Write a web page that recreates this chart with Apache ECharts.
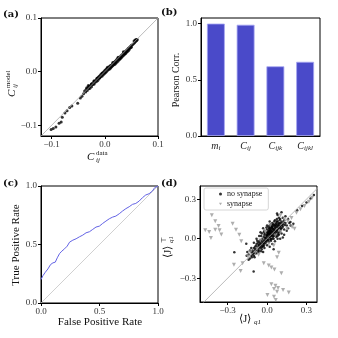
<!DOCTYPE html>
<html>
<head>
<meta charset="utf-8">
<script src="https://cdn.jsdelivr.net/npm/echarts/dist/echarts.min.js"></script>
<style>
  html, body { margin: 0; padding: 0; background: #fff; }
  #chart { width: 338px; height: 338px; }
</style>
</head>
<body>
<div id="chart"></div>
<script>
// (a) model vs data correlations
const corrPoints = [
  [-0.101,-0.108],[-0.097,-0.106],[-0.092,-0.103],[-0.086,-0.096],[-0.082,-0.094],[-0.08,-0.085],
  [-0.075,-0.077],[-0.071,-0.073],[-0.066,-0.067],[-0.062,-0.064],[-0.051,-0.059],[-0.046,-0.049],
  [-0.043,-0.046],[-0.031,-0.026],[-0.034,-0.03],[-0.025,-0.024],
  [-0.04,-0.041],[-0.038,-0.036],[-0.036,-0.038],[-0.035,-0.033],[-0.033,-0.035],[-0.032,-0.03],
  [-0.03,-0.032],[-0.029,-0.027],[-0.028,-0.031],[-0.026,-0.025],[-0.025,-0.028],[-0.024,-0.022],
  [-0.022,-0.024],[-0.021,-0.019],[-0.02,-0.023],[-0.019,-0.018],[-0.018,-0.02],[-0.016,-0.015],
  [-0.015,-0.018],[-0.014,-0.012],[-0.013,-0.016],[-0.012,-0.01],[-0.011,-0.013],[-0.01,-0.008],
  [-0.009,-0.011],[-0.008,-0.006],[-0.007,-0.009],[-0.006,-0.004],[-0.005,-0.008],[-0.004,-0.002],
  [-0.003,-0.006],[-0.002,0.0],[-0.001,-0.004],[0.0,0.002],[0.001,-0.002],[0.002,0.004],
  [0.003,0.0],[0.004,0.006],[0.005,0.002],[0.006,0.007],[0.007,0.004],[0.008,0.009],
  [0.009,0.005],[0.01,0.011],[0.011,0.007],[0.012,0.012],[0.013,0.009],[0.014,0.014],
  [0.015,0.011],[0.016,0.016],[0.017,0.013],[0.018,0.018],[0.019,0.014],[0.02,0.02],
  [0.021,0.016],[0.022,0.022],[0.023,0.018],[0.024,0.024],[0.025,0.02],[0.026,0.025],
  [0.027,0.022],[0.028,0.027],[0.029,0.024],[0.03,0.029],[0.031,0.026],[0.032,0.031],
  [0.033,0.028],[0.034,0.033],[0.035,0.03],[0.036,0.035],[0.037,0.032],[0.038,0.037],
  [0.039,0.034],[0.04,0.039],[0.041,0.036],[0.042,0.041],[0.043,0.038],[0.044,0.043],
  [0.045,0.04],[0.046,0.045],[0.047,0.043],[0.048,0.047],[0.049,0.045],[0.05,0.049],
  [0.052,0.05],[0.054,0.052],[0.056,0.054],[0.058,0.056],[0.06,0.058],[0.059,0.06],
  [0.061,0.06],[0.055,0.057],[0.057,0.059],
  [-0.02,-0.017],[-0.01,-0.012],[0.0,-0.001],[0.01,0.008],[0.02,0.017],[0.03,0.027],
  [0.04,0.037],[0.015,0.017],[0.025,0.027],[0.035,0.037],[0.005,0.008],[-0.005,-0.003],
  [-0.015,-0.013],[-0.025,-0.023],[-0.03,-0.028],[0.045,0.042],[0.05,0.046],[0.038,0.034],
  [0.028,0.024],[0.018,0.015]
];
const corrDiag = [[-0.12, -0.12], [0.1, 0.1]];
const corrTicks = [-0.1, 0, 0.1];

// (b) Pearson correlation of the moments
const pearsonLabels = ['m_i', 'C_ij', 'C_ijk', 'C_ijkl'];
const pearsonVals = [1.0, 0.99, 0.62, 0.66];
const pearsonTicks = [0, 0.5, 1.0];

// (c) ROC curve
const rocPoints = [
  [0,0.2],[0.017,0.234],[0.037,0.263],[0.059,0.291],[0.082,0.329],[0.102,0.343],[0.122,0.349],
  [0.139,0.386],[0.159,0.423],[0.178,0.443],[0.201,0.463],[0.224,0.486],[0.244,0.52],[0.272,0.537],
  [0.3,0.549],[0.329,0.566],[0.357,0.58],[0.385,0.6],[0.414,0.609],[0.442,0.629],[0.47,0.649],
  [0.499,0.657],[0.527,0.68],[0.555,0.7],[0.584,0.72],[0.612,0.734],[0.64,0.743],[0.669,0.763],
  [0.697,0.786],[0.725,0.806],[0.754,0.823],[0.782,0.843],[0.81,0.851],[0.839,0.871],[0.867,0.9],
  [0.895,0.923],[0.924,0.934],[0.952,0.957],[0.972,0.986],[1.0,1.0]
];
const rocDiag = [[0, 0], [1, 1]];
const rocTicks = [0, 0.5, 1];

// (d) inferred couplings
const noSynapse = [
  [0.00,0.02],[0.01,0.03],[0.02,0.05],[0.03,0.04],[0.04,0.06],[0.05,0.05],[0.02,0.01],[0.03,0.07],
  [0.06,0.08],[0.05,0.02],[0.01,0.06],[0.04,0.03],[0.07,0.06],[0.00,0.05],[-0.01,0.01],[0.02,0.08],
  [0.03,0.00],[0.06,0.04],[0.04,0.09],[0.01,-0.01],[0.05,0.07],[0.07,0.03],[-0.02,0.03],[0.00,-0.02],
  [0.03,0.02],[0.02,0.03],[0.045,0.045],[0.015,0.04],[0.035,0.055],[0.055,0.065],[0.025,0.065],
  [0.065,0.05],[0.005,0.035],[-0.005,0.0],[0.08,0.07],[0.075,0.09],[0.06,0.1],[0.035,0.085],
  [0.045,0.015],[0.015,0.015],[0.0,0.07],[-0.015,0.04],[0.05,0.11],[0.08,0.05],[0.09,0.08],
  [0.025,-0.005],[0.04,0.0],[-0.01,-0.015],[0.01,0.09],[0.065,0.02],
  [0.005,0.045],[0.015,0.055],[0.025,0.035],[0.035,0.025],[0.045,0.075],[0.055,0.035],[0.065,0.085],
  [0.075,0.065],[0.085,0.085],[0.015,0.075],[0.025,0.085],[-0.005,0.025],[-0.015,0.005],[-0.025,0.015],
  [0.005,0.005],[0.055,0.095],[0.045,0.105],[0.035,0.095],[0.07,0.1],[0.09,0.1],[0.1,0.09],[0.08,0.11],
  [0.06,0.06],[0.03,0.05],[0.01,0.04],[-0.02,-0.01],[-0.03,-0.035],[-0.045,-0.045],[-0.055,-0.03],
  [-0.065,-0.045],[-0.035,-0.06],[-0.01,-0.03],[0.005,-0.01],[0.015,-0.025],[0.03,-0.015],[0.05,0.0],
  [0.07,0.015],[0.085,0.035],[0.095,0.05],[0.105,0.075],[0.115,0.1],[0.125,0.125],[0.135,0.105],
  [0.095,0.115],[0.075,0.13],[-0.005,0.085],[-0.025,0.05],[-0.045,0.02],[-0.075,-0.015],[-0.085,-0.055],
  [-0.095,-0.095],[-0.11,-0.105],[-0.065,-0.075],[-0.045,-0.095],[-0.025,-0.055],[0.0,0.03],[0.02,0.06],
  [0.04,0.08],[0.06,0.03],[0.08,0.02],
  [-0.03,-0.02],[-0.04,-0.03],[-0.05,-0.04],[-0.03,-0.05],[-0.06,-0.05],[-0.07,-0.06],[-0.05,-0.07],
  [-0.08,-0.07],[-0.09,-0.08],[-0.07,-0.09],[-0.1,-0.1],[-0.11,-0.12],[-0.12,-0.13],[-0.1,-0.13],
  [-0.13,-0.15],[-0.08,-0.11],[-0.06,-0.09],[-0.04,-0.06],[-0.02,-0.04],[-0.035,0.0],[-0.05,-0.01],
  [-0.06,-0.02],[-0.08,-0.04],[-0.09,-0.06],[-0.1,-0.07],[-0.11,-0.09],[-0.12,-0.1],[-0.14,-0.12],
  [-0.13,-0.09],[-0.09,-0.11],[-0.07,-0.03],[-0.045,-0.015],[-0.025,-0.03],[-0.015,-0.02],
  [-0.055,-0.06],[-0.075,-0.075],[-0.085,-0.09],[-0.105,-0.11],[-0.115,-0.14],[-0.14,-0.16],
  [-0.095,-0.14],[-0.065,-0.1],[-0.04,-0.08],[-0.12,-0.07],[-0.155,-0.13],[-0.15,-0.1],
  [-0.03,-0.1],[-0.02,-0.07],
  [0.09,0.12],[0.1,0.1],[0.11,0.13],[0.12,0.11],[0.1,0.15],[0.13,0.14],[0.08,0.13],[0.07,0.12],
  [0.12,0.16],[0.14,0.12],[0.11,0.08],[0.1,0.06],[0.12,0.09],[0.13,0.07],[0.15,0.1],[0.09,0.16],
  [0.06,0.14],[0.08,0.18],[0.11,0.2],[0.14,0.17],[0.16,0.15],[0.15,0.06],[0.17,0.12],[0.09,0.03],
  [0.11,0.04],[0.13,0.03],[0.085,0.1],[0.095,0.14],[0.105,0.12],[0.065,0.11],[0.055,0.13],
  [0.075,0.15],[0.04,0.12],[0.03,0.11],[0.02,0.1],[0.18,0.1],[0.16,0.08],[0.12,0.01],
  [-0.08,0.0],[-0.1,-0.03],[-0.06,0.02],[0.0,-0.05],[0.02,-0.06],[0.04,-0.04],[0.06,-0.02],
  [0.08,0.0],[0.05,-0.08],[0.1,0.0],[-0.02,0.06],[-0.04,0.04],[-0.03,0.08],[0.0,0.1],[0.02,0.13],
  [-0.05,0.05],
  [-0.249,-0.102],[-0.102,-0.249],[-0.158,-0.038],[0.076,0.191],[0.178,0.127],[0.2,0.114],
  [0.229,0.216],[0.267,0.249],[0.3,0.275],[0.331,0.305],[0.356,0.331]
];
const synapse = [
  [-0.42,0.178],[-0.394,0.132],[-0.369,0.097],[-0.47,0.064],[-0.44,0.051],[-0.394,0.069],
  [-0.361,0.064],[-0.348,0.033],[-0.427,0.005],[-0.262,0.114],[-0.236,0.069],[-0.211,0.031],
  [-0.196,-0.02],
  [-0.252,-0.198],[-0.201,-0.244],[-0.186,-0.186],[-0.145,-0.135],[-0.127,-0.102],[-0.089,-0.107],
  [-0.064,-0.122],[-0.025,-0.186],[0.013,-0.203],[0.033,-0.219],[0.056,-0.234],[0.109,-0.262],
  [0.076,-0.14],[0.089,-0.107],
  [0.033,-0.346],[0.064,-0.356],[0.053,-0.381],[0.084,-0.374],[0.122,-0.389],[0.165,-0.407],
  [0.003,-0.427],[0.053,-0.44],[0.066,-0.465],[0.076,-0.402],
  [0.158,0.132],[0.186,0.158],[0.224,0.198],[0.254,0.224],[0.285,0.249],[0.318,0.28],[0.343,0.31],
  [0.191,0.089],[0.209,0.076],[0.153,0.076],[0.132,0.148],[0.102,0.178],
  [-0.013,0.051],[0.025,0.102],[0.064,0.025],[-0.051,-0.013],[0.102,0.051],[0.013,-0.038],
  [0.051,-0.051],[-0.076,-0.076]
];
const couplingDiag = [[-0.6, -0.6], [0.5, 0.5]];
const couplingTicks = [-0.3, 0, 0.3];

const serif = 'Liberation Serif';
const triangle = 'path://M0,0L10,0L5,9Z';

function fmt(v) {
  const s = Math.abs(v) < 1e-9 ? '0.0' : v.toFixed(1);
  return s.replace('-', '\u2212');
}

function valueAxis(gridIndex, min, max, ticks) {
  return {
    type: 'value', gridIndex: gridIndex, min: min, max: max,
    axisLine: { show: true, onZero: false, lineStyle: { color: '#000', width: 1 } },
    axisTick: { show: true, length: 3, customValues: ticks, lineStyle: { color: '#000', width: 1 } },
    axisLabel: { customValues: ticks, formatter: fmt, margin: 4, fontFamily: serif, fontSize: 9, color: '#333' },
    splitLine: { show: false }
  };
}

function txt(x, y, text, font, rot, align) {
  return {
    type: 'text', x: x, y: y, rotation: rot || 0,
    style: {
      text: text, font: font, fill: '#111',
      align: align || 'center', verticalAlign: 'middle',
      textAlign: align || 'center', textVerticalAlign: 'middle'
    }
  };
}

// base symbol with stacked super/subscript
function mathTxt(x, y, rot, base, baseFont, bw, sup, sub) {
  const kids = [txt(0, 0, base, baseFont, 0, 'left')];
  if (sup) kids.push(txt(bw, -3.5, sup, '7px "' + serif + '"', 0, 'left'));
  if (sub) kids.push(txt(bw, 3.5, sub, 'italic 7px "' + serif + '"', 0, 'left'));
  return { type: 'group', x: x, y: y, rotation: rot, children: kids };
}

const chart = echarts.init(document.getElementById('chart'));
const frame = { show: true, borderColor: '#000', borderWidth: 1, backgroundColor: '#fff' };

const option = {
  animation: false,
  grid: [
    Object.assign({ left: 41, top: 18, width: 117, height: 118 }, frame),
    Object.assign({ left: 201, top: 18, width: 119, height: 118 }, frame),
    Object.assign({ left: 41, top: 186, width: 117, height: 117 }, frame),
    Object.assign({ left: 200, top: 186, width: 117, height: 116 }, frame)
  ],
  xAxis: [
    valueAxis(0, -0.12, 0.1, corrTicks),
    {
      type: 'category', gridIndex: 1, data: pearsonLabels,
      axisLine: { lineStyle: { color: '#000', width: 1 } },
      axisTick: { alignWithLabel: true, length: 3, lineStyle: { color: '#000' } },
      axisLabel: {
        margin: 4, interval: 0,
        formatter: function (v) {
          const p = v.split('_');
          return '{b|' + p[0] + '}{s|' + p[1] + '}';
        },
        rich: {
          b: { fontFamily: serif, fontStyle: 'italic', fontSize: 10, color: '#222', lineHeight: 12 },
          s: { fontFamily: serif, fontStyle: 'italic', fontSize: 7, color: '#222', lineHeight: 6, verticalAlign: 'bottom' }
        }
      }
    },
    valueAxis(2, 0, 1, rocTicks),
    valueAxis(3, -0.51, 0.38, couplingTicks)
  ],
  yAxis: [
    valueAxis(0, -0.12, 0.1, corrTicks),
    valueAxis(1, 0, 1.05, pearsonTicks),
    valueAxis(2, 0, 1, rocTicks),
    valueAxis(3, -0.48, 0.4, couplingTicks)
  ],
  legend: {
    data: [{ name: 'no synapse', icon: 'circle' }, { name: 'synapse', icon: triangle }],
    orient: 'vertical', left: 204, top: 188,
    itemWidth: 3, itemHeight: 3, itemGap: 2,
    padding: [2, 6, 2, 15],
    backgroundColor: '#fff', borderColor: '#ccc', borderWidth: 0.8, borderRadius: 2,
    selectedMode: false,
    textStyle: { fontFamily: serif, fontSize: 8, color: '#222' }
  },
  series: [
    {
      type: 'line', xAxisIndex: 0, yAxisIndex: 0, data: corrDiag, symbol: 'none',
      lineStyle: { color: '#aaa', width: 0.8 }, silent: true
    },
    {
      type: 'scatter', xAxisIndex: 0, yAxisIndex: 0, data: corrPoints,
      symbolSize: 3, itemStyle: { color: '#000' }
    },
    {
      type: 'bar', xAxisIndex: 1, yAxisIndex: 1, data: pearsonVals, barWidth: '60%',
      itemStyle: { color: '#4a4ac9', borderColor: '#a4a4f2', borderWidth: 0.8 }
    },
    {
      type: 'line', xAxisIndex: 2, yAxisIndex: 2, data: rocDiag, symbol: 'none',
      lineStyle: { color: '#c4c4c4', width: 0.8 }, silent: true
    },
    {
      type: 'line', xAxisIndex: 2, yAxisIndex: 2, data: rocPoints, symbol: 'none',
      lineStyle: { color: '#6262e4', width: 1 }
    },
    {
      type: 'line', xAxisIndex: 3, yAxisIndex: 3, data: couplingDiag, symbol: 'none',
      lineStyle: { color: '#aaa', width: 0.8 }, silent: true, clip: true
    },
    {
      name: 'no synapse', type: 'scatter', xAxisIndex: 3, yAxisIndex: 3, data: noSynapse,
      symbolSize: 2.5, itemStyle: { color: '#000' }
    },
    {
      name: 'synapse', type: 'scatter', xAxisIndex: 3, yAxisIndex: 3, data: synapse,
      symbol: triangle, symbolSize: [4, 4], itemStyle: { color: '#9a9a9a' }
    }
  ],
  graphic: [
    txt(3, 14, '(a)', 'bold 10px "DejaVu Serif"', 0, 'left'),
    txt(161, 12, '(b)', 'bold 10px "DejaVu Serif"', 0, 'left'),
    txt(3, 183, '(c)', 'bold 10px "DejaVu Serif"', 0, 'left'),
    txt(161, 183, '(d)', 'bold 10px "DejaVu Serif"', 0, 'left'),
    mathTxt(12, 97, Math.PI / 2, 'C', 'italic 11px "' + serif + '"', 9, 'model', 'ij'),
    mathTxt(87, 157, 0, 'C', 'italic 11px "' + serif + '"', 9, 'data', 'ij'),
    txt(176, 80, 'Pearson Corr.', '10px "' + serif + '"', Math.PI / 2),
    txt(16, 245, 'True Positive Rate', '11px "' + serif + '"', Math.PI / 2),
    txt(100, 322, 'False Positive Rate', '11px "' + serif + '"', 0),
    mathTxt(168, 258, Math.PI / 2, '\u27e8J\u27e9', '11px "' + serif + '"', 15, '\u22a4', 'q1'),
    mathTxt(239, 319, 0, '\u27e8J\u27e9', '11px "' + serif + '"', 15, null, 'q1')
  ]
};
chart.setOption(option);
</script>
</body>
</html>
